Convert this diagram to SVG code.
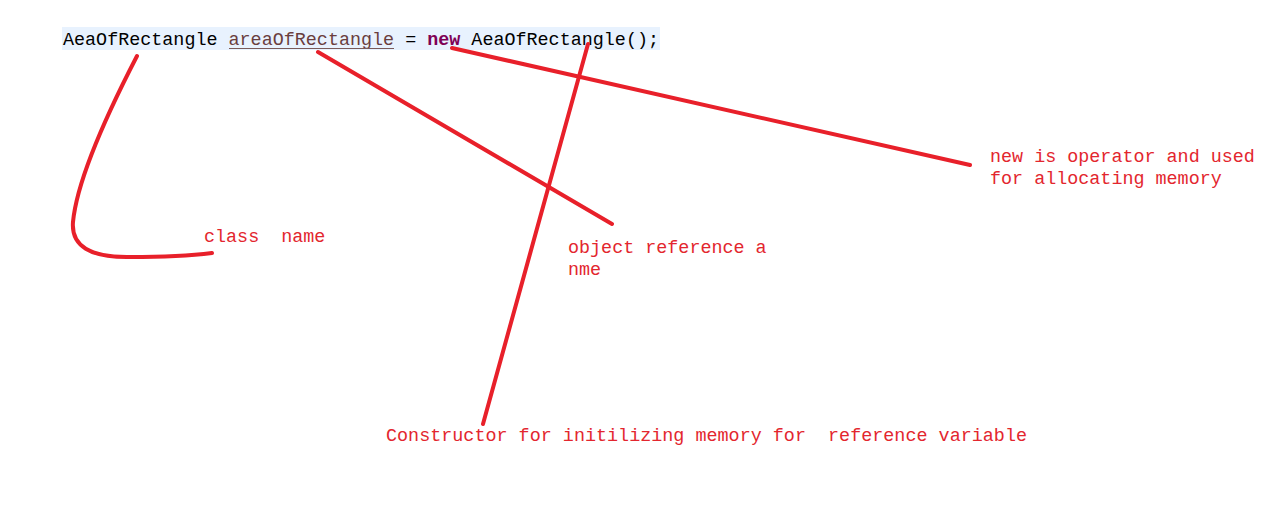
<svg xmlns="http://www.w3.org/2000/svg" width="1280" height="508" viewBox="0 0 1280 508" xml:space="preserve">
<style>
text{white-space:pre}
.code{font-family:"Liberation Mono","DejaVu Sans Mono",monospace;font-size:18.4px;fill:#000}
.lbl{font-family:"Liberation Mono","DejaVu Sans Mono",monospace;font-size:18.4px;fill:#e3262e}
.ln{fill:none;stroke:#e8202a;stroke-width:4;stroke-linecap:round;stroke-linejoin:round}
</style>
<rect width="1280" height="508" fill="#fff"/>
<g id="code">
<rect x="62" y="27" width="598" height="23" fill="#e8f2fe"/>
<text class="code" x="63" y="45" textLength="596" lengthAdjust="spacingAndGlyphs">AeaOfRectangle <tspan fill="#6a3e3e">areaOfRectangle</tspan> = <tspan fill="#7f0055" font-weight="bold">new</tspan> AeaOfRectangle();</text>
<line x1="229" y1="48.5" x2="394" y2="48.5" stroke="#7a5a5a" stroke-width="1"/>
</g>
<g id="connectors">
<path class="ln" d="M137,56 Q78,170 73,222 Q70,258 130,257 Q180,257 212,253"/>
<line class="ln" x1="318" y1="52" x2="612" y2="224"/>
<line class="ln" x1="452" y1="48" x2="970" y2="165"/>
<line class="ln" x1="588" y1="44" x2="483" y2="424"/>
</g>
<g id="class-name"><text class="lbl" x="204" y="242">class  name</text></g>
<g id="object-reference"><text class="lbl" x="568" y="253">object reference a</text><text class="lbl" x="568" y="275">nme</text></g>
<g id="new-operator"><text class="lbl" x="990" y="162">new is operator and used</text><text class="lbl" x="990" y="184">for allocating memory</text></g>
<g id="constructor"><text class="lbl" x="386" y="441" textLength="641" lengthAdjust="spacingAndGlyphs">Constructor for initilizing memory for  reference variable</text></g>
</svg>
